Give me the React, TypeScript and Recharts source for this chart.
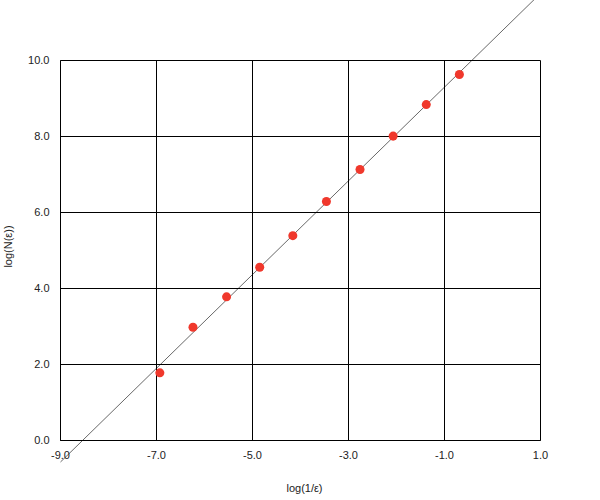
import React from "react"
import { CartesianGrid, Label, ReferenceLine, Scatter, ScatterChart, XAxis, YAxis, ZAxis } from "recharts"

// measured points: log(1/eps) vs log(N(eps))
const logInvEps = [-6.93, -6.24, -5.54, -4.85, -4.16, -3.46, -2.76, -2.07, -1.38, -0.69]
const logN = [1.78, 2.98, 3.78, 4.56, 5.39, 6.29, 7.13, 8.01, 8.84, 9.63]

// least squares fit line end points
const fitX = [-9, 1]
const fitY = [-0.565, 11.766]

const xTicks = [-9, -7, -5, -3, -1, 1]
const yTicks = [0, 2, 4, 6, 8, 10]

const points = logInvEps.map((x, i) => ({ x, y: logN[i] }))

const font = { fontFamily: "'Liberation Sans', Arial, sans-serif", fontSize: 11, fill: "#222" }

const App = () => (
    <div style={{ position: "absolute", left: 0, top: 0 }}>
        {/* half pixel margins keep the 1px grid lines crisp */}
        <ScatterChart width={600} height={500} margin={{ top: 60.5, right: 59.5, bottom: -0.5, left: 0.5 }}>
            <CartesianGrid stroke="#000" strokeWidth={1} />
            <XAxis
                type="number"
                dataKey="x"
                domain={[-9, 1]}
                ticks={xTicks}
                tickFormatter={(v: number) => v.toFixed(1)}
                tickLine={false}
                tickMargin={5}
                axisLine={{ stroke: "#000" }}
                tick={font}
                height={60}
            >
                <Label value="log(1/ε)" position="insideBottom" offset={9} dx={4} style={font} />
            </XAxis>
            <YAxis
                type="number"
                dataKey="y"
                domain={[0, 10]}
                ticks={yTicks}
                tickFormatter={(v: number) => v.toFixed(1)}
                tickLine={false}
                tickMargin={5}
                axisLine={{ stroke: "#000" }}
                tick={font}
                width={60}
            >
                <Label value="log(N(ε))" angle={-90} position="insideLeft" offset={8} dy={-4} style={{ ...font, textAnchor: "middle" }} />
            </YAxis>
            <ZAxis range={[34, 34]} />
            <Scatter data={points} fill="#f0382c" isAnimationActive={false} />
            <ReferenceLine
                segment={[{ x: fitX[0], y: fitY[0] }, { x: fitX[1], y: fitY[1] }]}
                ifOverflow="visible"
                stroke="#000"
                strokeWidth={0.6}
            />
        </ScatterChart>
    </div>
)

export default App
